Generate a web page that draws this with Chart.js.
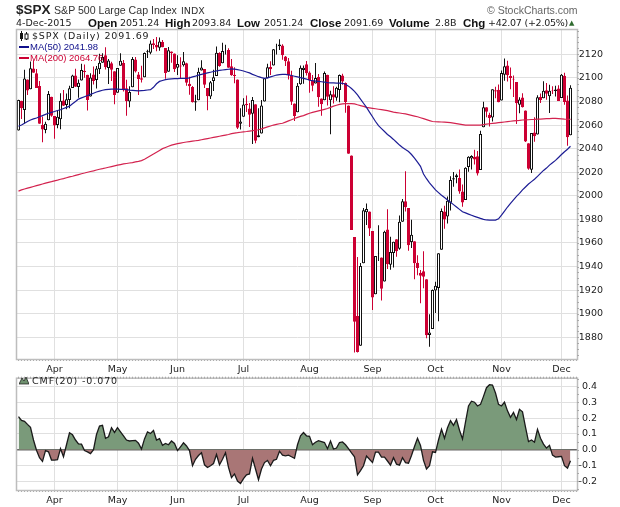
<!DOCTYPE html>
<html>
<head>
<meta charset="utf-8">
<title>$SPX</title>
<script src="https://cdn.jsdelivr.net/npm/chart.js@4/dist/chart.umd.min.js"></script>
<style>
    html, body { margin: 0; padding: 0; background: #fff; width: 620px; height: 507px; overflow: hidden; }
    canvas { position: absolute; left: 0; display: block; }
    #mainChart { top: 0; }
    #cmfChart { top: 372px; }
    .t { position: absolute; white-space: nowrap; font: 9.5px/12px "DejaVu Sans", sans-serif; color: #222; }
    .b { font: bold 11.5px/12px "Liberation Sans", sans-serif; color: #111; }
    .ma { font: 9.5px/12px "Liberation Sans", sans-serif; }
</style>
</head>
<body>
<canvas id="mainChart" width="620" height="380"></canvas>
<canvas id="cmfChart" width="620" height="135"></canvas>

<span class="t" style="left:16px;top:3px;font:bold 13.5px/14px 'Liberation Sans',sans-serif;color:#222">$SPX</span>
<span class="t" style="left:54px;top:4px;font:10.6px/13px 'Liberation Sans',sans-serif;color:#333">S&amp;P 500 Large Cap Index</span>
<span class="t" style="left:181px;top:5px;font:9.5px/12px 'DejaVu Sans',sans-serif;color:#333">INDX</span>
<span class="t" style="left:487px;top:4px;font:10.5px/13px 'Liberation Sans',sans-serif;color:#666">© StockCharts.com</span>

<span class="t" style="left:16px;top:17px">4-Dec-2015</span>
<span class="t b" style="left:88px;top:17px">Open</span><span class="t" style="left:120px;top:17px">2051.24</span>
<span class="t b" style="left:165px;top:17px">High</span><span class="t" style="left:192px;top:17px">2093.84</span>
<span class="t b" style="left:237px;top:17px">Low</span><span class="t" style="left:264px;top:17px">2051.24</span>
<span class="t b" style="left:310px;top:17px">Close</span><span class="t" style="left:344px;top:17px">2091.69</span>
<span class="t b" style="left:389px;top:17px">Volume</span><span class="t" style="left:435px;top:17px">2.8B</span>
<span class="t b" style="left:463px;top:17px">Chg</span><span class="t" style="left:488px;top:17px;letter-spacing:-.25px">+42.07 (+2.05%)</span>
<span class="t" style="left:569px;top:17px;font-size:7px;color:#2f6b2f">▲</span>

<svg style="position:absolute;left:19px;top:31px" width="10" height="10"><path d="M2.5 0V10M7.5 1V9" stroke="#111"/><rect x="1" y="2" width="3" height="6" fill="#111"/><rect x="6" y="3" width="3" height="5" fill="#fff" stroke="#111"/></svg>
<span class="t" style="left:32px;top:30px;letter-spacing:.82px">$SPX (Daily) 2091.69</span>
<svg style="position:absolute;left:19px;top:46px" width="10" height="3"><rect width="10" height="2" fill="#10108c"/></svg>
<span class="t ma" style="left:30px;top:41px;color:#10108c">MA(50) 2041.98</span>
<svg style="position:absolute;left:19px;top:57px" width="10" height="3"><rect width="10" height="2" fill="#cc0033"/></svg>
<span class="t ma" style="left:30px;top:52px;color:#cc0033">MA(200) 2064.76</span>

<svg style="position:absolute;left:19px;top:376px" width="10" height="9"><path d="M0 8L3 2L5 5L7 1L10 8Z" fill="#6f916f" stroke="#111" stroke-width=".7"/></svg>
<span class="t" style="left:32px;top:375px;letter-spacing:.9px">CMF(20) -0.070</span>

<script>
const dates = [
    'Mar 16','Mar 17','Mar 18','Mar 19','Mar 20','Mar 23','Mar 24','Mar 25','Mar 26','Mar 27','Mar 30','Mar 31',
    'Apr 1','Apr 2','Apr 6','Apr 7','Apr 8','Apr 9','Apr 10','Apr 13','Apr 14','Apr 15','Apr 16','Apr 17','Apr 20','Apr 21','Apr 22','Apr 23','Apr 24','Apr 27','Apr 28','Apr 29','Apr 30',
    'May 1','May 4','May 5','May 6','May 7','May 8','May 11','May 12','May 13','May 14','May 15','May 18','May 19','May 20','May 21','May 22','May 26','May 27','May 28','May 29',
    'Jun 1','Jun 2','Jun 3','Jun 4','Jun 5','Jun 8','Jun 9','Jun 10','Jun 11','Jun 12','Jun 15','Jun 16','Jun 17','Jun 18','Jun 19','Jun 22','Jun 23','Jun 24','Jun 25','Jun 26','Jun 29','Jun 30',
    'Jul 1','Jul 2','Jul 6','Jul 7','Jul 8','Jul 9','Jul 10','Jul 13','Jul 14','Jul 15','Jul 16','Jul 17','Jul 20','Jul 21','Jul 22','Jul 23','Jul 24','Jul 27','Jul 28','Jul 29','Jul 30','Jul 31',
    'Aug 3','Aug 4','Aug 5','Aug 6','Aug 7','Aug 10','Aug 11','Aug 12','Aug 13','Aug 14','Aug 17','Aug 18','Aug 19','Aug 20','Aug 21','Aug 24','Aug 25','Aug 26','Aug 27','Aug 28','Aug 31',
    'Sep 1','Sep 2','Sep 3','Sep 4','Sep 8','Sep 9','Sep 10','Sep 11','Sep 14','Sep 15','Sep 16','Sep 17','Sep 18','Sep 21','Sep 22','Sep 23','Sep 24','Sep 25','Sep 28','Sep 29','Sep 30',
    'Oct 1','Oct 2','Oct 5','Oct 6','Oct 7','Oct 8','Oct 9','Oct 12','Oct 13','Oct 14','Oct 15','Oct 16','Oct 19','Oct 20','Oct 21','Oct 22','Oct 23','Oct 26','Oct 27','Oct 28','Oct 29','Oct 30',
    'Nov 2','Nov 3','Nov 4','Nov 5','Nov 6','Nov 9','Nov 10','Nov 11','Nov 12','Nov 13','Nov 16','Nov 17','Nov 18','Nov 19','Nov 20','Nov 23','Nov 24','Nov 25','Nov 27','Nov 30',
    'Dec 1','Dec 2','Dec 3','Dec 4'
];
const opens = [
    2055.35,2080.59,2072.84,2098.69,2090.32,2107.99,2103.94,2093.10,2059.94,2055.78,2064.11,2084.05,
    2067.63,2060.03,2064.87,2080.79,2076.94,2081.29,2091.51,2102.03,2092.28,2097.82,2105.96,2102.58,2084.11,2102.82,2098.27,2107.21,2112.80,2119.29,2108.35,2112.49,2105.52,
    2087.38,2110.23,2112.63,2091.26,2079.96,2092.13,2115.56,2102.87,2099.62,2100.43,2122.07,2121.30,2129.45,2127.79,2125.55,2130.36,2125.34,2105.13,2122.27,2120.66,
    2108.64,2110.41,2110.64,2112.35,2095.09,2092.34,2079.07,2081.12,2106.24,2107.43,2091.34,2084.26,2097.40,2101.58,2121.06,2112.50,2124.20,2123.65,2109.96,2102.62,2098.63,2061.19,
    2067.00,2078.03,2073.95,2069.52,2077.66,2049.73,2052.74,2080.03,2099.72,2109.24,2110.55,2126.80,2126.85,2127.55,2118.21,2114.16,2102.24,2078.19,2070.75,2094.70,2106.78,2111.60,
    2104.49,2097.68,2095.27,2100.75,2082.61,2080.98,2102.66,2081.10,2086.19,2083.15,2089.70,2101.99,2095.69,2076.61,2034.08,1965.15,1898.08,1872.75,1942.77,1986.06,1986.73,
    1970.09,1916.52,1950.79,1947.76,1927.30,1971.45,1941.59,1951.45,1963.06,1955.10,1978.02,1995.33,1989.66,1960.84,1961.39,1943.24,1934.81,1935.93,1929.18,1881.90,1887.14,
    1919.65,1921.77,1954.33,1986.63,1982.34,1994.01,2013.73,2015.65,2015.00,2003.66,1996.47,2024.37,2031.73,2033.13,2033.47,2021.88,2058.19,2075.08,2068.75,2066.48,2088.35,2090.00,
    2080.76,2102.63,2110.60,2101.68,2098.60,2096.56,2077.19,2083.41,2072.29,2044.64,2022.08,2053.67,2051.99,2083.70,2082.82,2089.41,2084.42,2089.30,2088.82,2090.95,
    2082.93,2101.71,2080.71,2051.24
];
const highs = [
    2081.41,2080.59,2106.85,2098.69,2113.92,2114.86,2107.63,2097.43,2067.15,2062.83,2088.97,2084.05,
    2067.63,2072.17,2086.99,2089.81,2086.69,2093.31,2102.61,2107.65,2098.62,2111.91,2111.30,2102.58,2103.94,2109.64,2109.98,2120.49,2120.92,2125.92,2116.04,2113.65,2105.52,
    2108.41,2120.95,2115.24,2098.42,2092.90,2117.66,2117.69,2105.06,2110.19,2121.45,2123.89,2131.78,2133.02,2134.72,2134.28,2132.15,2125.34,2126.22,2122.27,2120.66,
    2119.15,2117.59,2121.92,2112.89,2100.99,2093.01,2085.62,2108.50,2115.02,2107.43,2091.34,2097.40,2106.79,2126.65,2121.64,2129.87,2128.03,2125.10,2116.04,2108.92,2098.63,2074.28,
    2082.78,2085.06,2078.61,2083.74,2077.66,2074.28,2081.31,2099.88,2111.98,2114.14,2124.42,2128.91,2132.82,2128.49,2118.51,2116.87,2106.01,2078.19,2095.60,2110.60,2110.48,2114.24,
    2105.70,2102.51,2112.66,2103.32,2082.61,2105.35,2102.66,2089.06,2092.93,2092.45,2102.87,2103.47,2096.17,2076.61,2034.08,1965.15,1948.04,1943.09,1989.60,1993.48,1986.73,
    1970.09,1948.91,1975.01,1947.76,1970.42,1988.63,1965.29,1961.05,1963.06,1983.19,1997.26,2020.86,1989.66,1979.64,1961.39,1949.52,1937.17,1952.89,1929.18,1899.48,1920.53,
    1927.21,1951.36,1989.17,1991.62,1999.31,2016.50,2020.13,2018.66,2022.34,2009.56,2024.15,2033.54,2034.45,2039.12,2037.97,2055.20,2079.74,2075.14,2070.37,2090.35,2092.52,2094.32,
    2106.20,2116.48,2114.59,2108.78,2101.91,2096.56,2083.67,2086.94,2072.29,2044.64,2053.22,2066.69,2085.31,2086.74,2097.06,2095.61,2094.12,2093.00,2093.29,2093.81,
    2103.37,2104.27,2085.00,2093.84
];
const lows = [
    2055.35,2065.08,2061.23,2085.56,2090.32,2104.42,2091.50,2061.05,2045.50,2052.96,2064.11,2067.04,
    2048.38,2057.32,2056.52,2076.10,2073.30,2074.29,2091.51,2092.33,2083.24,2097.82,2100.02,2072.37,2084.11,2094.38,2091.05,2103.19,2112.80,2107.04,2094.89,2097.41,2077.59,
    2087.38,2110.23,2088.46,2067.93,2074.99,2092.13,2104.58,2085.57,2096.04,2100.43,2116.81,2120.01,2124.50,2122.59,2122.95,2126.06,2099.18,2105.13,2112.86,2104.89,
    2102.54,2099.14,2109.61,2093.23,2085.67,2079.11,2072.14,2081.12,2106.24,2091.33,2072.49,2082.10,2088.86,2101.58,2109.45,2112.50,2119.89,2108.58,2101.78,2095.38,2056.64,2056.32,
    2067.00,2071.02,2058.40,2044.02,2044.66,2049.73,2052.74,2080.03,2099.72,2102.49,2110.55,2119.88,2123.66,2115.40,2110.00,2098.63,2077.09,2063.52,2070.75,2094.08,2094.97,2102.07,
    2087.31,2088.60,2095.27,2075.53,2067.91,2080.98,2076.49,2052.09,2078.26,2080.61,2079.30,2094.14,2070.53,2035.73,1970.89,1867.01,1867.08,1872.75,1942.77,1975.19,1965.98,
    1903.07,1916.52,1944.72,1911.21,1927.30,1937.88,1937.19,1939.19,1948.27,1954.30,1977.93,1986.73,1953.45,1955.80,1929.22,1932.57,1908.92,1921.50,1879.21,1871.91,1887.14,
    1900.70,1893.70,1954.33,1971.99,1976.44,1987.53,2007.61,2010.55,2001.78,1990.73,1996.47,2020.46,2022.31,2026.61,2017.22,2021.88,2058.19,2066.53,2058.84,2063.11,2082.63,2079.34,
    2080.76,2097.51,2096.98,2090.41,2083.74,2060.95,2069.91,2074.85,2045.66,2022.02,2019.39,2045.90,2051.99,2078.76,2082.82,2081.39,2070.29,2086.30,2084.13,2080.41,
    2082.93,2077.11,2042.35,2051.24
];
const closes = [
    2081.19,2074.28,2099.50,2089.27,2108.10,2104.42,2091.50,2061.05,2056.15,2061.02,2086.24,2067.89,
    2059.69,2066.96,2080.62,2076.33,2081.90,2091.18,2102.06,2092.43,2095.84,2106.63,2104.99,2081.18,2100.40,2097.29,2107.96,2112.93,2117.69,2108.92,2114.76,2106.85,2085.51,
    2108.29,2114.49,2089.46,2080.15,2088.00,2116.10,2105.33,2099.12,2098.48,2121.10,2122.73,2129.20,2127.83,2125.85,2130.82,2126.06,2104.20,2123.48,2120.79,2107.39,
    2111.73,2109.60,2114.07,2095.84,2092.83,2079.28,2080.15,2105.20,2108.86,2094.11,2084.43,2096.29,2100.44,2121.24,2109.99,2122.85,2124.20,2108.58,2102.31,2101.49,2057.64,2063.11,
    2077.42,2076.78,2068.76,2081.34,2046.68,2051.31,2076.62,2099.60,2108.95,2107.40,2124.29,2126.64,2128.28,2119.21,2114.15,2102.15,2079.65,2067.64,2093.25,2108.57,2108.63,2103.84,
    2098.04,2093.32,2099.84,2083.56,2077.57,2104.18,2084.07,2086.05,2083.39,2091.54,2102.44,2096.92,2079.61,2035.73,1970.89,1893.21,1867.61,1940.51,1987.66,1988.87,1972.18,
    1913.85,1948.86,1951.13,1921.22,1969.41,1942.04,1952.29,1961.05,1953.03,1978.09,1995.31,1990.20,1958.03,1966.97,1942.74,1938.76,1932.24,1931.34,1881.77,1884.09,1920.03,
    1923.82,1951.36,1987.05,1979.92,1995.83,2013.43,2014.89,2017.46,2003.69,1994.24,2023.86,2033.11,2033.66,2030.77,2018.94,2052.51,2075.15,2071.18,2065.89,2090.35,2089.41,2079.36,
    2104.05,2109.79,2102.31,2099.93,2099.20,2078.58,2081.72,2075.00,2045.97,2023.04,2053.19,2050.44,2083.58,2081.24,2089.17,2086.59,2089.14,2088.87,2090.11,2080.41,
    2102.63,2079.51,2049.62,2091.69
];
const ma50 = [
    2059,2060,2061.5,2063,2064.3,2065.2,2066,2067,2068,2069,2070,2070.8,2071.5,2072.3,2073,2074,2075,2076,2078,2080,2082,
    2083,2084,2085,2086,2087,2088,2088.8,2089.5,2090,2090.3,2090.4,2090.5,2090.4,2090.3,2090.2,2090,2089.6,2089.4,2089.2,2089,
    2089.2,2089.4,2089.7,2090,2092,2095,2097,2097.8,2098.5,2099,2099.2,2099.3,2099.4,2099.5,2099.5,2099.6,2100,2100.8,2101.5,2102.3,2103,
    2103.6,2104.2,2104.8,2105.4,2106,2106.4,2106.7,2107,2107.3,2107.6,2107.4,2107,2106.5,2105.8,2105,2104.2,2103,2102,2101,2100.2,2099.6,
    2100,2100.8,2101.6,2102.4,2102.8,2103,2103,2102.6,2102,2101.4,2100.8,2100.2,2099.6,2099,2098,2097.6,2097.3,2097,2096.7,2096.4,2096,
    2095.8,2095.7,2095.6,2095.5,2095.4,2094.6,2093,2091,2088.5,2085.5,2082,2078.5,2075,2071,2067,2063,2059.5,2057,2054.5,2052,2050,
    2047.8,2045.4,2043,2041,2039.2,2037.6,2035,2032,2028.5,2025,2018.5,2014.5,2011,2008,2005,2002.7,2000.5,1998.5,1996.5,1994.5,
    1992.5,1990.5,1988.5,1986.5,1985.5,1984.5,1983.5,1982.5,1981.7,1980.8,1980,1979.5,1979.3,1979.3,1979.4,1980.5,1983.7,1987,1990.5,1993.6,
    1996.5,1999.5,2002,2005,2007.5,2010,2012,2014,2016.5,2019,2021.5,2023.5,2026,2028,2030,2032.5,2035,2037.4,2039.5,2041.98
];
const ma200 = [
    2004,2005,2005.8,2006.5,2007.2,2007.9,2008.6,2009.3,2010,2010.7,2011.4,2012,2012.7,2013.3,2014,2014.6,2015.3,2016,2016.6,2017.3,2018,2018.7,
    2019.3,2020,2020.6,2021.2,2021.9,2022.5,2023,2023.6,2024.2,2024.8,2025.4,2026,2026.5,2027,2027.4,2027.8,2028.2,2028.7,2029.2,2029.8,
    2031,2032.5,2034,2035.5,2037,2038.5,2040,2041,2042,2043,2043.6,2044.2,2044.7,2045.2,2045.6,2046,2046.4,2046.7,2047,
    2047.5,2048,2048.5,2049,2049.5,2050,2050.5,2051,2051.5,2052,2052.7,2053.2,2053.5,2053.9,2054.2,2054.5,2054.9,2055.2,2055.6,2056,
    2056.8,2057.6,2058.4,2059.2,2060,2060.6,2061.1,2061.5,2062.5,2063.5,2064.5,2065.5,2066.5,2067.3,2068,2069,2070,
    2070.7,2071.4,2072,2072.6,2073.3,2074,2075,2076,2076.8,2077.5,2078,2078.2,2078.2,2078.1,2078,2077.2,2076.5,2075.8,2075,
    2074.6,2074.2,2073.8,2073.4,2073,2072.6,2072.2,2071.6,2071,2070.6,2070.2,2069.8,2069.4,2068.8,2068.2,2067.6,2067,2066.2,2065.4,2064.6,2063.8,2063,
    2062.8,2062.7,2062.6,2062.4,2062.2,2062,2061.6,2061.2,2060.8,2060.4,2060,2059.9,2059.9,2060,2060,2060,2060.4,2060.8,2061.1,2061.4,2061.7,2062,2062.3,
    2062.6,2062.9,2063.2,2063.5,2063.8,2064,2064.3,2064.4,2064.5,2064.7,2064.8,2065,2065.1,2065.3,2065.4,2065.5,2065.7,2065.6,2065.5,2065.3,2065,2064.9,2064.76
];
const cmf = [
    .209,.186,.180,.160,.141,.061,-.004,-.051,-.074,-.006,-.014,-.066,-.066,-.064,.006,-.045,.031,.107,.094,.061,
    .037,.035,-.006,-.014,-.025,0,.096,.150,.154,.072,.082,.139,.109,.139,.113,.088,.061,.055,.057,.059,
    .041,.004,.068,.113,.102,.121,.061,.070,.027,.039,.031,.055,.039,-.006,.018,.043,.023,-.006,-.102,-.061,
    -.037,-.020,-.096,-.113,-.102,-.088,-.031,-.096,-.061,-.020,-.113,-.178,-.154,-.199,-.215,-.184,-.160,-.154,-.055,-.123,
    -.191,-.123,-.082,-.068,-.102,-.068,-.061,-.010,-.035,-.039,-.035,-.045,-.055,.031,.088,.109,.088,.085,.031,.047,
    .057,.051,.045,.006,.055,.004,.010,.045,.049,.031,.006,-.020,-.045,-.160,-.133,-.102,-.041,-.061,-.082,-.016,
    -.016,-.047,-.047,-.072,-.098,-.051,-.092,-.098,-.051,-.082,-.086,-.037,.020,.072,.027,-.068,-.123,-.102,-.014,-.018,
    .061,.129,.072,.139,.184,.154,.191,.123,.068,.174,.277,.307,.301,.277,.287,.338,.393,.412,.410,.359,
    .287,.277,.301,.246,.205,.236,.191,.256,.240,.143,.051,.061,.047,.129,.072,.035,.010,.027,-.035,-.047,
    -.045,-.043,-.102,-.117,-.070
];
const priceTicks = [1880, 1900, 1920, 1940, 1960, 1980, 2000, 2020, 2040, 2060, 2080, 2100, 2120];
const cmfTicks = [-0.2, -0.1, 0, 0.1, 0.2, 0.3, 0.4];

const RED = '#cc0033';
const BLACK = '#111111';
const GRID = '#e0e0e0';
const AXIS_FONT = { family: '"DejaVu Sans", sans-serif', size: 9.5 };

// two blank days keep the gap after the last candle
const labels = dates.concat(['', '']);

const candleColors = closes.map((c, i) => (c >= (i ? closes[i - 1] : opens[i]) ? BLACK : RED));
const bodyFills = closes.map((c, i) => (c > opens[i] ? '#ffffff' : candleColors[i]));

function isMonthStart(i) {
    return i > 0 && labels[i] !== '' && labels[i].slice(0, 3) !== labels[i - 1].slice(0, 3);
}

function xAxis(height, labelGap) {
    return {
        ticks: {
            autoSkip: false,
            maxRotation: 0,
            padding: labelGap,
            color: '#222',
            font: AXIS_FONT,
            callback: (value, index) => (isMonthStart(index) ? labels[index].slice(0, 3) : ''),
        },
        grid: {
            offset: false,
            tickLength: 2,
            tickColor: '#aaaaaa',
            lineWidth: 1,
            color: (ctx) => (isMonthStart(ctx.index) ? GRID : 'rgba(0,0,0,0)'),
        },
        border: { display: false },
        afterFit: (scale) => { scale.height = height; },
    };
}

function yAxis(min, max, values, format, width, zeroLine) {
    return {
        position: 'right',
        min: min,
        max: max,
        ticks: { color: '#222', font: AXIS_FONT, padding: 1, crossAlign: 'far', callback: format },
        grid: {
            drawTicks: false,
            color: (ctx) => (zeroLine && ctx.tick && ctx.tick.value === 0 ? '#666666' : GRID),
            lineWidth: (ctx) => (zeroLine && ctx.tick && ctx.tick.value === 0 ? 1.5 : 1),
        },
        border: { display: false },
        afterBuildTicks: (scale) => { scale.ticks = values.map((v) => ({ value: v })); },
        afterFit: (scale) => { scale.width = width; },
    };
}

// grey frame plus the small dotted ticks on the price side, and along the top when asked
function framePlugin(step, topTicks) {
    return {
        id: 'frame',
        afterDraw(chart) {
            const { ctx, chartArea: a, scales } = chart;
            const right = a.right - 1;
            ctx.save();
            ctx.strokeStyle = '#bdbdbd';
            ctx.lineWidth = 1.5;
            ctx.strokeRect(a.left - 0.5, a.top - 0.5, right - a.left + 1, a.bottom - a.top + 1);
            ctx.lineWidth = 1;
            ctx.strokeStyle = '#aaaaaa';
            const y = scales.y;
            for (let v = Math.ceil(y.min / step) * step; v <= y.max; v += step) {
                const py = Math.round(y.getPixelForValue(v)) + 0.5;
                ctx.beginPath();
                ctx.moveTo(right, py);
                ctx.lineTo(right + 2, py);
                ctx.stroke();
            }
            if (topTicks) {
                labels.forEach((label, i) => {
                    const px = Math.floor(scales.x.getPixelForValue(i)) + 0.5;
                    ctx.beginPath();
                    ctx.moveTo(px, a.top - 2);
                    ctx.lineTo(px, a.top);
                    ctx.stroke();
                });
            }
            ctx.restore();
        },
    };
}

new Chart(document.getElementById('mainChart'), {
    type: 'bar',
    data: {
        labels: labels,
        datasets: [
            {
                type: 'line',
                data: ma50,
                borderColor: '#1c1c94',
                borderWidth: 1.2,
                pointRadius: 0,
                order: 0,
            },
            {
                type: 'line',
                data: ma200,
                borderColor: '#d3234f',
                borderWidth: 1.2,
                pointRadius: 0,
                order: 0,
            },
            {
                data: opens.map((o, i) => [o, closes[i]]),
                backgroundColor: bodyFills,
                borderColor: candleColors,
                borderWidth: 1,
                borderSkipped: false,
                inflateAmount: 0,
                barThickness: 3,
                grouped: false,
                order: 1,
            },
            {
                data: highs.map((h, i) => [lows[i], h]),
                backgroundColor: candleColors,
                borderWidth: 0,
                inflateAmount: 0,
                barThickness: 1,
                grouped: false,
                order: 2,
            },
        ],
    },
    options: {
        responsive: false,
        animation: false,
        events: [],
        layout: { padding: { left: 17, top: 30, right: 17, bottom: 0 } },
        plugins: { legend: { display: false }, tooltip: { enabled: false } },
        scales: {
            x: xAxis(21, 3),
            y: yAxis(1861.6, 2140.6, priceTicks, (v) => String(v), 25),
        },
    },
    plugins: [framePlugin(5, false)],
});

new Chart(document.getElementById('cmfChart'), {
    type: 'line',
    data: {
        labels: labels,
        datasets: [{
            data: cmf,
            borderColor: '#1a1a1a',
            borderWidth: 1.3,
            pointRadius: 0,
            fill: { target: { value: 0 }, above: '#7a9a7a', below: '#a97676' },
        }],
    },
    options: {
        responsive: false,
        animation: false,
        events: [],
        layout: { padding: { left: 17, top: 3, right: 23, bottom: 0 } },
        plugins: { legend: { display: false }, tooltip: { enabled: false } },
        scales: {
            x: Object.assign(xAxis(17, 3), { offset: true }),
            y: yAxis(-0.256, 0.45, cmfTicks, (v) => v.toFixed(1), 19, true),
        },
    },
    plugins: [framePlugin(0.05, true)],
});
</script>
</body>
</html>
